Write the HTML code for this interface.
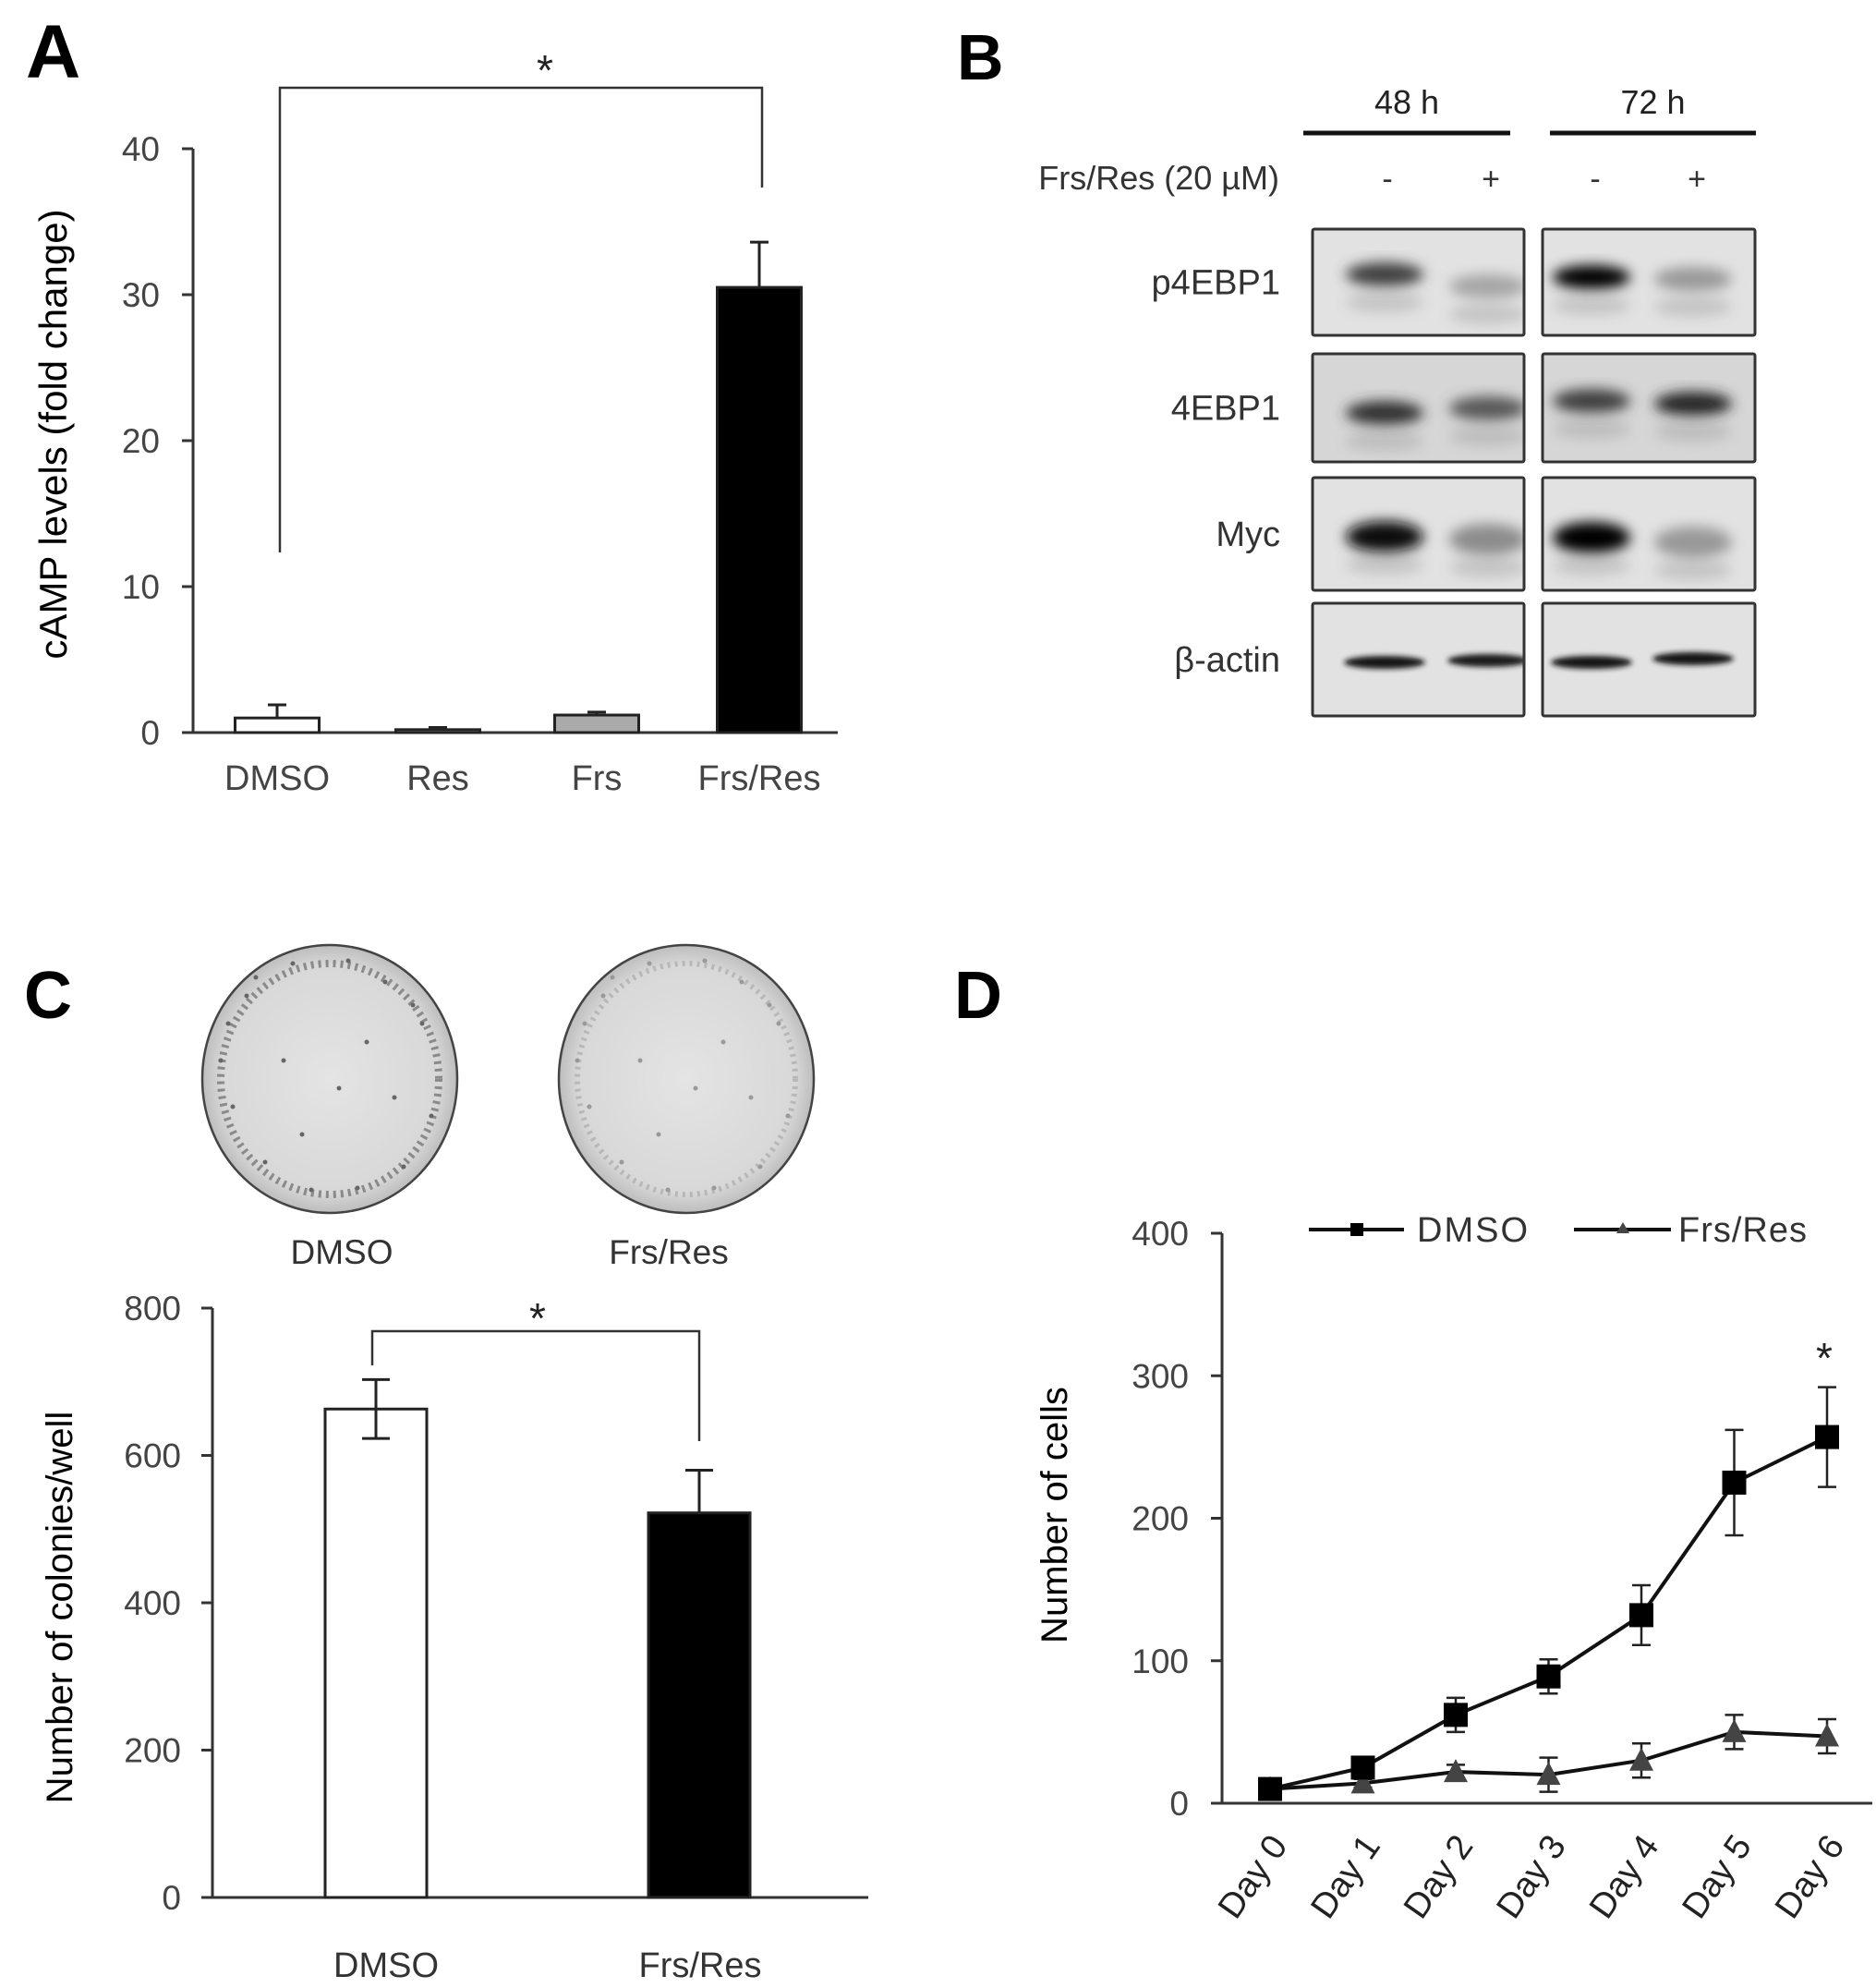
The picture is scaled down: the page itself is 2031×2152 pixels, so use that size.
<!DOCTYPE html>
<html><head><meta charset="utf-8"><style>
html,body{margin:0;padding:0;background:#fff}
svg{display:block}
text{font-family:"Liberation Sans",Arial,sans-serif}
</style></head><body>
<svg id="fig" width="2031" height="2152" viewBox="0 0 2031 2152" xmlns="http://www.w3.org/2000/svg">
<defs>
<filter id="blur" x="-50%" y="-50%" width="200%" height="200%"><feGaussianBlur stdDeviation="7"/></filter>
<filter id="blur2" x="-50%" y="-50%" width="200%" height="200%"><feGaussianBlur stdDeviation="3"/></filter>
<radialGradient id="plate" cx="50%" cy="50%" r="50%"><stop offset="0" stop-color="#e4e4e4"/><stop offset="0.85" stop-color="#d8d8d8"/><stop offset="1" stop-color="#bdbdbd"/></radialGradient>
</defs>
<g id="A"></g>
<g id="B"></g>
<g id="C"></g>
<g id="D"></g>
</svg>
<script>
// Panel A data
const aCategories = ["DMSO","Res","Frs","Frs/Res"];
const aValues = [1.0, 0.2, 1.2, 30.5];
const aErrors = [0.9, 0.15, 0.2, 3.1];
const aTicks = [0,10,20,30,40];
// Panel C data
const cCategories = ["DMSO","Frs/Res"];
const cValues = [663, 522];
const cErrors = [40, 58];
const cTicks = [0,200,400,600,800];
// Panel D data
const dDays = ["Day 0","Day 1","Day 2","Day 3","Day 4","Day 5","Day 6"];
const dDMSO = [10, 25, 62, 89, 132, 225, 257];
const dDMSOErr = [3, 4, 12, 12, 21, 37, 35];
const dFrsRes = [10, 14, 22, 20, 30, 50, 47];
const dFrsResErr = [3, 3, 5, 12, 12, 12, 12];
const dTicks = [0,100,200,300,400];
// Panel B band intensities (lanes: 48h-, 48h+, 72h-, 72h+)
const bRows = ["p4EBP1","4EBP1","Myc","β-actin"];
const bIntensity = [[0.75,0.35,0.98,0.4],[0.8,0.65,0.75,0.85],[0.97,0.45,0.98,0.4],[0.9,0.88,0.9,0.9]];

const NS="http://www.w3.org/2000/svg";
function mk(parent,tag,attrs,txt){const e=document.createElementNS(NS,tag);for(const k in attrs)e.setAttribute(k,attrs[k]);if(txt!==undefined)e.textContent=txt;parent.appendChild(e);return e;}
const A=document.getElementById('A'),B=document.getElementById('B'),C=document.getElementById('C'),D=document.getElementById('D');
let t,e;

// ---------- Panel A ----------
t=mk(A,'text',{x:28,y:84,'font-size':82,'font-weight':'bold',fill:'#000'},'A');


const aX0=209,aX1=907,aY0=793,aYtop=161;
const ay=v=>aY0-(v/40)*(aY0-aYtop);
const aCenters=[300,474,646,822];
const aFills=['#fff','#fff','#aaa','#000'];
const aBW=91;
e=mk(A,'line',{x1:aX0,y1:aYtop,x2:aX0,y2:aY0,stroke:'#333','stroke-width':3});


e=mk(A,'line',{x1:aX0-2,y1:aY0,x2:aX1,y2:aY0,stroke:'#333','stroke-width':3});


aTicks.forEach(v=>{
  mk(A,'line',{x1:aX0-12,y1:ay(v),x2:aX0,y2:ay(v),stroke:'#333','stroke-width':3});
  t=mk(A,'text',{x:173,y:ay(v)+13,'font-size':37,fill:'#444','text-anchor':'end'},String(v));
  
  
});
aValues.forEach((v,i)=>{
  const cx=aCenters[i];
  const r=mk(A,'rect',{x:cx-aBW/2,y:ay(v),width:aBW,height:aY0-ay(v),fill:aFills[i],stroke:'#222','stroke-width':3});
  
  
  const et=ay(v+aErrors[i]);
  mk(A,'line',{x1:cx,y1:ay(v),x2:cx,y2:et,stroke:'#222','stroke-width':3});
  mk(A,'line',{x1:cx-10,y1:et,x2:cx+10,y2:et,stroke:'#222','stroke-width':3});
  t=mk(A,'text',{x:cx,y:855,'font-size':38,fill:'#444','text-anchor':'middle'},aCategories[i]);
  
  
});
e=mk(A,'path',{d:'M303 598 V95 H825 V203',fill:'none',stroke:'#333','stroke-width':2.5});


t=mk(A,'text',{x:590,y:92,'font-size':46,fill:'#222','text-anchor':'middle'},'*');


t=mk(A,'text',{x:0,y:0,'font-size':42,fill:'#000','text-anchor':'middle',transform:'translate(72,470) rotate(-90)'},'cAMP levels (fold change)');



// ---------- Panel B ----------
t=mk(B,'text',{x:1036,y:86,'font-size':70,'font-weight':'bold',fill:'#000'},'B');


[['48 h',1411,1635],['72 h',1678,1901]].forEach(([lab,x1,x2])=>{
  t=mk(B,'text',{x:(x1+x2)/2,y:123,'font-size':36,fill:'#222','text-anchor':'middle'},lab);
  
  
  mk(B,'line',{x1:x1,y1:144,x2:x2,y2:144,stroke:'#111','stroke-width':5});
});
t=mk(B,'text',{x:1385,y:205,'font-size':36,fill:'#333','text-anchor':'end'},'Frs/Res (20 µM)');


const laneX=[1502,1614,1727,1837];
['-','+','-','+'].forEach((s,i)=>{
  t=mk(B,'text',{x:laneX[i],y:205,'font-size':34,fill:'#333','text-anchor':'middle'},s);
  
  
});
const rowY=[[248,363],[383,500],[517,639],[653,775]];
const bandY=[[297,310,300,302],[447,442,434,437],[581,584,582,587],[717,715,717,713]];
const boxX=[[1421,1650],[1670,1900]];
bRows.forEach((name,r)=>{
  const [y1,y2]=rowY[r];
  t=mk(B,'text',{x:1386,y:(y1+y2)/2+13,'font-size':38,fill:'#333','text-anchor':'end'},name);
  
  
  boxX.forEach(([x1,x2],b)=>{
    const g=mk(B,'g',{});
    
    
    const cp='cp'+r+'_'+b;
    const cl=mk(g,'clipPath',{id:cp});mk(cl,'rect',{x:x1,y:y1,width:x2-x1,height:y2-y1});
    const inner=mk(g,'g',{'clip-path':'url(#'+cp+')'});
    mk(inner,'rect',{x:x1,y:y1,width:x2-x1,height:y2-y1,fill:r==1?'#d6d6d6':'#e2e2e2'});
    for(let k=0;k<2;k++){
      const li=b*2+k, I=bIntensity[r][li];
      const g2=Math.round(255*(1-I));
      const col='rgb('+g2+','+g2+','+g2+')';
      const lx=laneX[li]+(b?-4:-3);
      if(r==3){
        mk(inner,'ellipse',{cx:lx,cy:bandY[r][li],rx:44,ry:7,fill:col,filter:'url(#blur2)'});
      } else {
        mk(inner,'ellipse',{cx:lx,cy:bandY[r][li],rx:42,ry:r==2?17:13,fill:col,filter:'url(#blur)'});
        mk(inner,'ellipse',{cx:lx,cy:bandY[r][li]+30,rx:42,ry:11,fill:'#999',opacity:0.4,filter:'url(#blur)'});
      }
    }
    mk(g,'rect',{x:x1,y:y1,width:x2-x1,height:y2-y1,fill:'none',stroke:'#333','stroke-width':3,rx:2});
  });
});

// ---------- Panel C ----------
t=mk(C,'text',{x:26,y:1102,'font-size':72,'font-weight':'bold',fill:'#000'},'C');


const speck=[[-80,-110],[-40,-125],[20,-128],[60,-105],[90,-80],[-110,-60],[-118,-20],[-105,30],[-70,90],[-20,120],[30,118],[80,95],[110,40],[-50,-20],[10,10],[40,-40],[-30,60],[70,20],[-90,-90],[100,-60]];
[[357,'DMSO',370],[743,'Frs/Res',724]].forEach(([cx,lab,lx],i)=>{
  e=mk(C,'ellipse',{cx:cx,cy:1168,rx:138,ry:145,fill:'url(#plate)',stroke:'#444','stroke-width':2.5});
  
  
  mk(C,'ellipse',{cx:cx,cy:1168,rx:118,ry:125,fill:'none',stroke:i?'#b0b0b0':'#777','stroke-width':i?6:8,'stroke-dasharray':'3 5',opacity:0.8});
  speck.forEach(([dxp,dyp])=>mk(C,'circle',{cx:cx+dxp,cy:1168+dyp,r:2.5,fill:i?'#999':'#666'}));
  t=mk(C,'text',{x:lx,y:1368,'font-size':37,fill:'#333','text-anchor':'middle'},lab);
  
  
});
const cX0=230,cX1=940,cY0=2054,cYtop=1416;
const cy=v=>cY0-(v/800)*(cY0-cYtop);
const cCenters=[407,757];
const cFills=['#fff','#000'];
e=mk(C,'line',{x1:cX0,y1:cYtop,x2:cX0,y2:cY0,stroke:'#333','stroke-width':3});


e=mk(C,'line',{x1:cX0-12,y1:cY0,x2:cX1,y2:cY0,stroke:'#333','stroke-width':3});


cTicks.forEach(v=>{
  mk(C,'line',{x1:cX0-12,y1:cy(v),x2:cX0,y2:cy(v),stroke:'#333','stroke-width':3});
  t=mk(C,'text',{x:196,y:cy(v)+13,'font-size':37,fill:'#444','text-anchor':'end'},String(v));
  
  
});
cValues.forEach((v,i)=>{
  const cx=cCenters[i];
  const r=mk(C,'rect',{x:cx-55,y:cy(v),width:110,height:cY0-cy(v),fill:cFills[i],stroke:'#222','stroke-width':3});
  
  
  const lo=i==0?cy(v-cErrors[i]):cy(v);
  const hi=cy(v+cErrors[i]);
  mk(C,'line',{x1:cx,y1:lo,x2:cx,y2:hi,stroke:'#222','stroke-width':3});
  mk(C,'line',{x1:cx-15,y1:hi,x2:cx+15,y2:hi,stroke:'#222','stroke-width':3});
  if(i==0)mk(C,'line',{x1:cx-15,y1:lo,x2:cx+15,y2:lo,stroke:'#222','stroke-width':3});
  t=mk(C,'text',{x:i?758:418,y:2140,'font-size':38,fill:'#333','text-anchor':'middle'},cCategories[i]);
  
  
});
e=mk(C,'path',{d:'M403 1478 V1441 H757 V1560',fill:'none',stroke:'#333','stroke-width':2.5});


t=mk(C,'text',{x:582,y:1443,'font-size':46,fill:'#222','text-anchor':'middle'},'*');


t=mk(C,'text',{x:0,y:0,'font-size':40,fill:'#000','text-anchor':'middle',transform:'translate(78,1740) rotate(-90)'},'Number of colonies/well');



// ---------- Panel D ----------
t=mk(D,'text',{x:1033,y:1102,'font-size':72,'font-weight':'bold',fill:'#000'},'D');


const dX0=1323,dX1=2027,dY0=1952,dYtop=1335;
const dy=v=>dY0-(v/400)*(dY0-dYtop);
const dx=i=>1375+i*100.5;
e=mk(D,'line',{x1:dX0,y1:dYtop,x2:dX0,y2:dY0,stroke:'#333','stroke-width':3});


e=mk(D,'line',{x1:dX0-12,y1:dY0,x2:dX1,y2:dY0,stroke:'#333','stroke-width':3});


dTicks.forEach(v=>{
  mk(D,'line',{x1:dX0-12,y1:dy(v),x2:dX0,y2:dy(v),stroke:'#333','stroke-width':3});
  t=mk(D,'text',{x:1287,y:dy(v)+13,'font-size':37,fill:'#444','text-anchor':'end'},String(v));
  
  
});
dDays.forEach((d,i)=>{
  const x=dx(i)+20,y=1998;
  t=mk(D,'text',{x:0,y:0,'font-size':38,fill:'#222','text-anchor':'end',transform:'translate('+x+','+y+') rotate(-55)'},d);
  
  
});
function series(vals,errs,name,marker,col){
  const g=mk(D,'g',{});
  
  
  mk(g,'polyline',{points:vals.map((v,i)=>dx(i)+','+dy(v)).join(' '),fill:'none',stroke:'#111','stroke-width':4});
  vals.forEach((v,i)=>{
    const x=dx(i),hi=dy(v+errs[i]),lo=dy(Math.max(0,v-errs[i]));
    mk(g,'line',{x1:x,y1:hi,x2:x,y2:lo,stroke:'#222','stroke-width':2.5});
    mk(g,'line',{x1:x-10,y1:hi,x2:x+10,y2:hi,stroke:'#222','stroke-width':2.5});
    mk(g,'line',{x1:x-10,y1:lo,x2:x+10,y2:lo,stroke:'#222','stroke-width':2.5});
    let m;
    if(marker=='sq') m=mk(g,'rect',{x:x-13,y:dy(v)-13,width:26,height:26,fill:col});
    else m=mk(g,'polygon',{points:(x)+','+(dy(v)-14)+' '+(x-13)+','+(dy(v)+11)+' '+(x+13)+','+(dy(v)+11),fill:col});
    
    
  });
}
series(dFrsRes,dFrsResErr,'frs-res','tri','#444');
series(dDMSO,dDMSOErr,'dmso','sq','#000');
// legend
const lg=mk(D,'g',{});


mk(lg,'line',{x1:1417,y1:1331,x2:1520,y2:1331,stroke:'#111','stroke-width':4});
mk(lg,'rect',{x:1462,y:1324,width:14,height:14,fill:'#000'});
t=mk(lg,'text',{x:1534,y:1344,'font-size':38,fill:'#333','letter-spacing':2},'DMSO');


mk(lg,'line',{x1:1704,y1:1331,x2:1809,y2:1331,stroke:'#111','stroke-width':4});
mk(lg,'polygon',{points:'1757,1323 1750,1335 1764,1335',fill:'#444'});
t=mk(lg,'text',{x:1817,y:1344,'font-size':38,fill:'#333','letter-spacing':1},'Frs/Res');


t=mk(D,'text',{x:1975,y:1486,'font-size':46,fill:'#222','text-anchor':'middle'},'*');


t=mk(D,'text',{x:0,y:0,'font-size':40,fill:'#000','text-anchor':'middle',transform:'translate(1155,1640) rotate(-90)'},'Number of cells');


</script>
</body></html>
